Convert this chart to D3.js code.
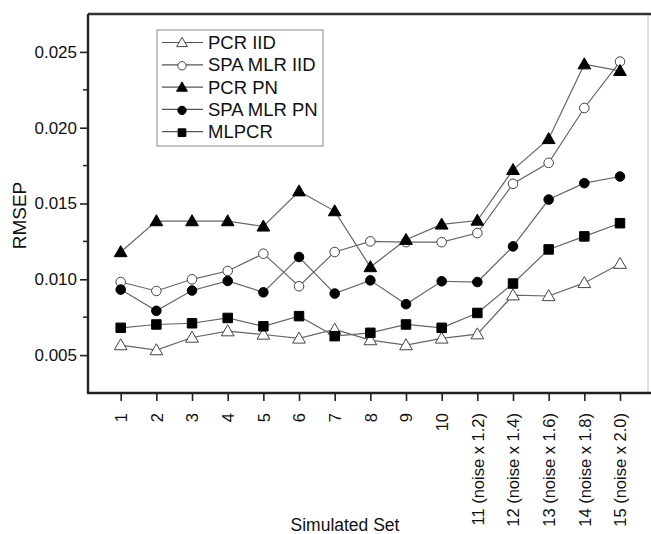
<!DOCTYPE html>
<html>
<head>
<meta charset="utf-8">
<script src="https://cdn.jsdelivr.net/npm/d3@7"></script>
<style>
  body { margin: 0; background: #fff; }
  text { font-family: Arial, "Liberation Sans", sans-serif; fill: #111; }
</style>
</head>
<body>
<div id="chart-container"></div>
<script>
const setLabels = ['1', '2', '3', '4', '5', '6', '7', '8', '9', '10',
  '11 (noise x 1.2)', '12 (noise x 1.4)', '13 (noise x 1.6)', '14 (noise x 1.8)', '15 (noise x 2.0)'];
const pcrIID =    [0.00566, 0.00533, 0.00616, 0.00658, 0.00636, 0.00610, 0.00669, 0.00599, 0.00566, 0.00610, 0.00638, 0.00895, 0.00890, 0.00976, 0.01103];
const spaMlrIID = [0.00982, 0.00923, 0.01000, 0.01055, 0.01169, 0.00954, 0.01180, 0.01250, 0.01245, 0.01245, 0.01305, 0.01630, 0.01768, 0.02130, 0.02436];
const pcrPN =     [0.01180, 0.01384, 0.01384, 0.01384, 0.01349, 0.01581, 0.01450, 0.01081, 0.01261, 0.01362, 0.01388, 0.01722, 0.01926, 0.02419, 0.02375];
const spaMlrPN =  [0.00932, 0.00792, 0.00926, 0.00989, 0.00914, 0.01147, 0.00906, 0.00993, 0.00836, 0.00987, 0.00982, 0.01217, 0.01526, 0.01634, 0.01678];
const mlpcr =     [0.00680, 0.00702, 0.00710, 0.00745, 0.00690, 0.00757, 0.00625, 0.00647, 0.00702, 0.00680, 0.00778, 0.00972, 0.01197, 0.01283, 0.01370];
const yTicks = [0.005, 0.010, 0.015, 0.020, 0.025];

const series = [
  { name: 'PCR IID', values: pcrIID, symbol: d3.symbolTriangle, fill: '#fff' },
  { name: 'SPA MLR IID', values: spaMlrIID, symbol: d3.symbolCircle, fill: '#fff' },
  { name: 'PCR PN', values: pcrPN, symbol: d3.symbolTriangle, fill: '#000' },
  { name: 'SPA MLR PN', values: spaMlrPN, symbol: d3.symbolCircle, fill: '#000' },
  { name: 'MLPCR', values: mlpcr, symbol: d3.symbolSquare, fill: '#000' }
];

const width = 651, height = 534;
const margin = { left: 88, top: 14, right: 3, bottom: 141 };
const w = width - margin.left - margin.right;
const h = height - margin.top - margin.bottom;

const svg = d3.select('div#chart-container').append('svg')
  .attr('width', width).attr('height', height);
const g = svg.append('g').attr('transform', `translate(${margin.left},${margin.top})`);

const x = d3.scalePoint().domain(setLabels).range([32.7, 532]);
const y = d3.scaleLinear().domain([0.0025, 0.0275]).range([h, 0]);

// faint right border, then heavy top/left/bottom frame
g.append('line').attr('x1', w).attr('x2', w).attr('y1', 0).attr('y2', h)
  .attr('stroke', '#ccc').attr('stroke-width', 1.2);
g.append('line').attr('x1', 0).attr('x2', w + 3).attr('y1', 0).attr('y2', 0)
  .attr('stroke', '#333').attr('stroke-width', 2.4);

// minor y ticks
g.append('g').selectAll('line').data(d3.range(0.0075, 0.0275, 0.005)).enter().append('line')
  .attr('x1', -5).attr('x2', 0).attr('y1', d => y(d)).attr('y2', d => y(d))
  .attr('stroke', '#222').attr('stroke-width', 1.5);

const yAxis = g.append('g').call(d3.axisLeft(y).tickValues(yTicks).tickFormat(d3.format('.3f')).tickSize(8).tickPadding(3));
yAxis.select('.domain').attr('stroke', '#222').attr('stroke-width', 2.4).attr('d', `M0,0V${h}`);
yAxis.selectAll('.tick line').attr('stroke', '#222').attr('stroke-width', 1.6);
yAxis.selectAll('text').style('font-size', '17px').attr('fill', '#111');

const xAxis = g.append('g').attr('transform', `translate(0,${h})`)
  .call(d3.axisBottom(x).tickSize(8).tickPadding(3));
xAxis.select('.domain').attr('stroke', '#222').attr('stroke-width', 2.4).attr('d', `M-1,0H${w + 3}`);
xAxis.selectAll('.tick line').attr('stroke', '#222').attr('stroke-width', 1.6);
xAxis.selectAll('text')
  .style('font-size', '16.5px')
  .style('text-anchor', 'end')
  .attr('transform', 'rotate(-90)')
  .attr('x', -20).attr('y', 0).attr('dy', '0.35em');

svg.append('text')
  .attr('transform', `translate(26,${margin.top + h / 2 + 12}) rotate(-90)`)
  .attr('text-anchor', 'middle')
  .style('font-size', '19px')
  .text('RMSEP');

svg.append('text')
  .attr('x', 345).attr('y', 531)
  .attr('text-anchor', 'middle')
  .style('font-size', '17.5px')
  .text('Simulated Set');

const line = d3.line().x((d, i) => x(setLabels[i])).y(d => y(d));

series.forEach(s => {
  g.append('path').datum(s.values)
    .attr('d', line)
    .attr('fill', 'none')
    .attr('stroke', '#666')
    .attr('stroke-width', 1.2);
});

series.forEach(s => {
  const size = s.symbol === d3.symbolSquare ? 90 : (s.symbol === d3.symbolCircle ? 72 : 70);
  const sym = d3.symbol().type(s.symbol).size(size);
  g.append('g').selectAll('path').data(s.values).enter().append('path')
    .attr('d', sym)
    .attr('transform', (d, i) => `translate(${x(setLabels[i])},${y(d) + (s.symbol === d3.symbolTriangle ? 1 : 0)})`)
    .attr('fill', s.fill)
    .attr('stroke', s.fill === '#fff' ? '#444' : '#000')
    .attr('stroke-width', 1);
});

// legend
const legend = svg.append('g').attr('transform', 'translate(157,30)');
legend.append('rect').attr('width', 166).attr('height', 116)
  .attr('fill', '#fff').attr('stroke', '#888').attr('stroke-width', 1);
series.forEach((s, i) => {
  const ly = 12.5 + i * 22.3;
  const row = legend.append('g').attr('transform', `translate(0,${ly})`);
  row.append('line').attr('x1', 5).attr('x2', 46).attr('y1', 0).attr('y2', 0)
    .attr('stroke', '#555').attr('stroke-width', 1.2);
  const size = s.symbol === d3.symbolSquare ? 60 : (s.symbol === d3.symbolCircle ? 55 : 50);
  row.append('path').attr('d', d3.symbol().type(s.symbol).size(size))
    .attr('transform', 'translate(25,1)')
    .attr('fill', s.fill).attr('stroke', s.fill === '#fff' ? '#444' : '#000');
  row.append('text').attr('x', 51).attr('y', 0).attr('dy', '0.36em')
    .style('font-size', '18.5px').text(s.name);
});
</script>
</body>
</html>
